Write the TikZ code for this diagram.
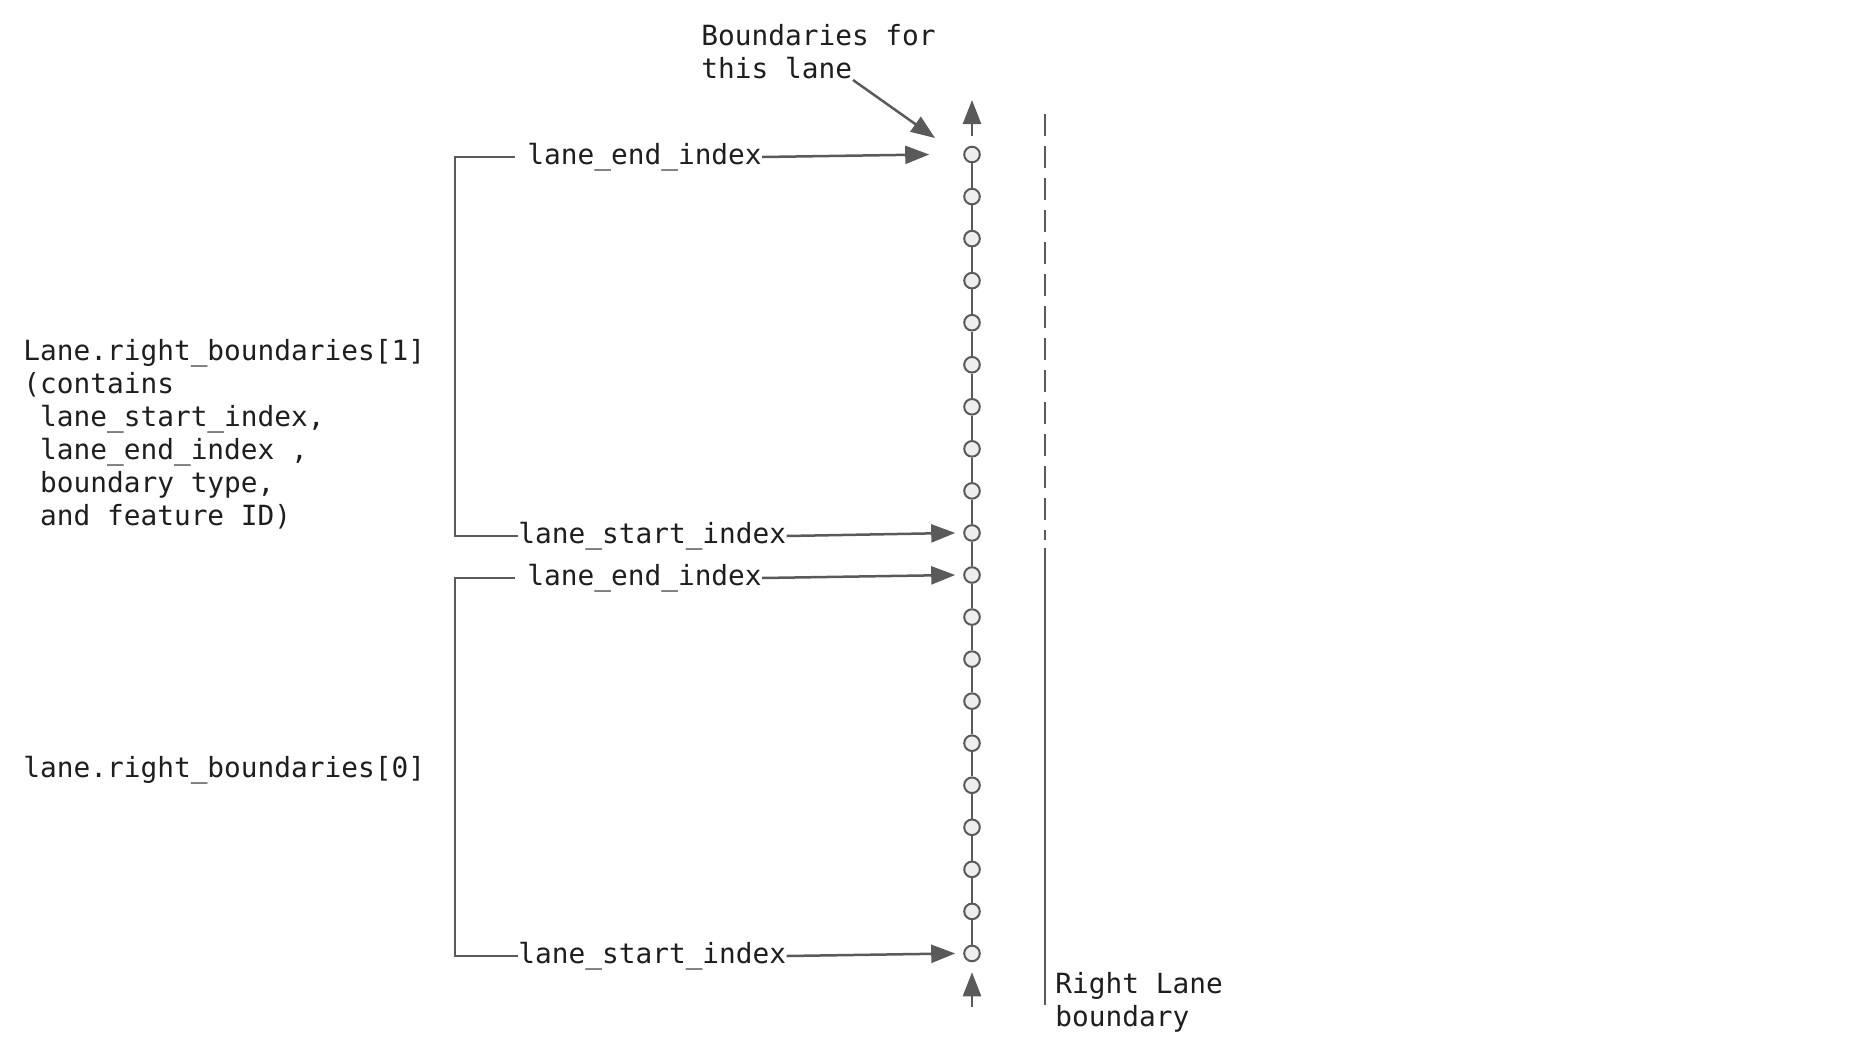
\documentclass[tikz,border=0pt]{standalone}
\usepackage{fontspec}
\setmonofont{DejaVu Sans Mono}
\usepackage{xcolor}
\usetikzlibrary{arrows.meta}
\definecolor{dkgray}{HTML}{5A5A5A}
\definecolor{ltgray}{HTML}{EEEEEE}
\definecolor{txtgray}{HTML}{1E1E1E}

\tikzset{
  >={Triangle[length=12pt,width=9pt]},
  lbl/.style={font=\ttfamily\fontsize{13.9}{16.5}\selectfont, text=txtgray, inner sep=0pt, align=left},
  lanept/.style={circle, draw=dkgray, fill=ltgray, line width=1pt, minimum size=7.8pt, inner sep=0pt},
  arr/.style={->, draw=dkgray, line width=1.25pt},
  brk/.style={draw=dkgray, line width=1.1pt}
}

\begin{document}
\begin{tikzpicture}[x=0.5pt,y=-0.5pt]
\useasboundingbox (0,0) rectangle (1864,1050);

% points of this lane
\foreach \i in {1,...,20}
  \node[lanept] (p\i) at (972,{154.5+42.05*(\i-1)}) {};
\foreach \i [count=\j from 2] in {1,...,19}
  \draw[dkgray, line width=1.25pt] (p\i) -- (p\j);

% direction of travel
\coordinate (uptip) at (972,100);
\coordinate (upbase) at (972,1007);
\draw[arr, shorten <=5pt] (p1) -- (uptip);
\draw[arr, shorten >=5pt] (upbase) -- (p20);

% right lane boundary
\draw[dkgray, line width=1.2pt, dash pattern=on 11pt off 5pt] (1045,114) -- (1045,540);
\draw[dkgray, line width=1.2pt] (1045,548) -- (1045,1005);
\node[lbl, anchor=north west] (rightlbl) at (1055,972) {Right Lane\\boundary};

% label on top
\node[lbl, anchor=north west] (lanelbl) at (701,24) {Boundaries for\\this lane};
\coordinate (lblend) at (853,80);
\coordinate (lbltip) at (935,138);
\draw[arr] (lblend) -- (lbltip);

% right_boundaries[1]
\node[lbl, anchor=west] (endone) at (527,157) {lane\_end\_index};
\node[lbl, anchor=west] (startone) at (518,536) {lane\_start\_index};
\draw[arr] (endone.east) -- ([xshift=-17pt]p1.west);
\draw[arr] (startone.east) -- ([xshift=-4pt]p10.west);
\draw[brk] ([xshift=-6pt]endone.west) -| (455,536) -- (startone.west);
\node[lbl, anchor=north west] (rbone) at (23,339) {Lane.right\_boundaries[1]\\(contains\\\ lane\_start\_index,\\\ lane\_end\_index ,\\\ boundary type,\\\ and feature ID)};

% right_boundaries[0]
\node[lbl, anchor=west] (endzero) at (527,578) {lane\_end\_index};
\node[lbl, anchor=west] (startzero) at (518,956) {lane\_start\_index};
\draw[arr] (endzero.east) -- ([xshift=-4pt]p11.west);
\draw[arr] (startzero.east) -- ([xshift=-4pt]p20.west);
\draw[brk] ([xshift=-6pt]endzero.west) -| (455,956) -- (startzero.west);
\node[lbl, anchor=base west] (rbzero) at (23,777) {lane.right\_boundaries[0]};

\end{tikzpicture}
\end{document}
